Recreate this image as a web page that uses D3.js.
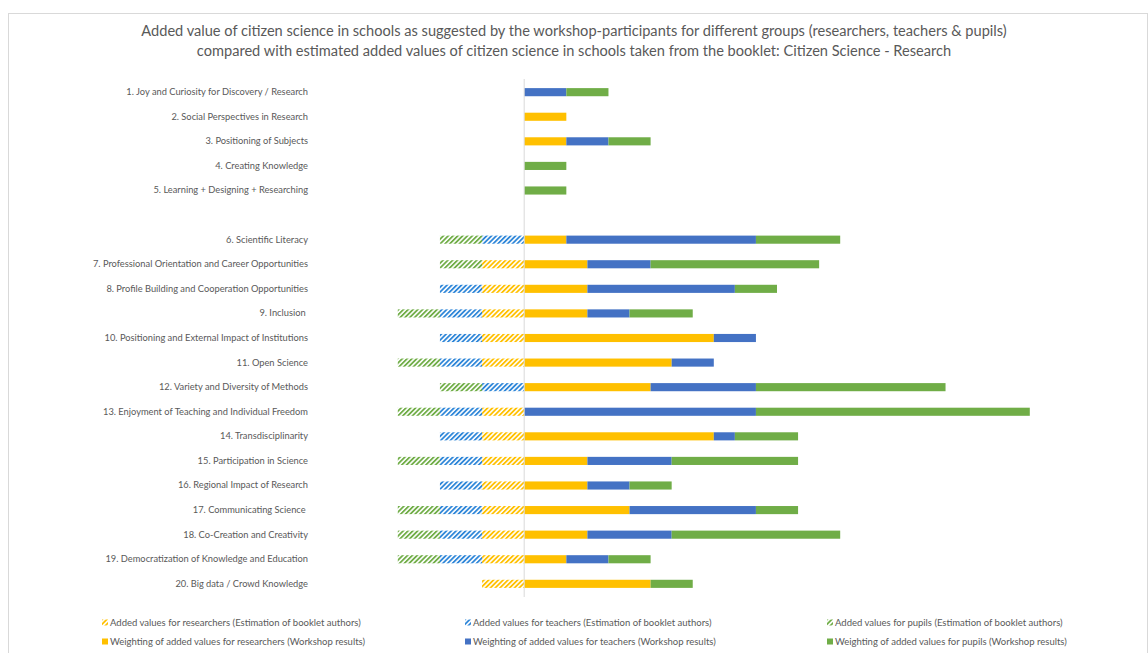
<!DOCTYPE html>
<html>
<head>
<meta charset="utf-8">
<script src="https://cdn.jsdelivr.net/npm/d3@7"></script>
<style>
    body { margin: 0; background: #fff; }
    #chart text { font-family: Lato, "Open Sans", sans-serif; fill: #595959; white-space: pre; }
</style>
</head>
<body>
<div id="chart"></div>
<script>
// Categories ("" is the empty spacer row between 5 and 6)
const categories = [
    "1. Joy and Curiosity for Discovery / Research",
    "2. Social Perspectives in Research",
    "3. Positioning of Subjects",
    "4. Creating Knowledge",
    "5. Learning + Designing + Researching",
    "",
    "6. Scientific Literacy",
    "7. Professional Orientation and Career Opportunities",
    "8. Profile Building and Cooperation Opportunities",
    "9. Inclusion ",
    "10. Positioning and External Impact of Institutions",
    "11. Open Science",
    "12. Variety and Diversity of Methods",
    "13. Enjoyment of Teaching and Individual Freedom",
    "14. Transdisciplinarity",
    "15. Participation in Science",
    "16. Regional Impact of Research",
    "17. Communicating Science ",
    "18. Co-Creation and Creativity",
    "19. Democratization of Knowledge and Education",
    "20. Big data / Crowd Knowledge"
];

// Estimations of booklet authors (drawn to the left, negative)
const researchersEst = [0, 0, 0, 0, 0, 0, 0, -1, -1, -1, -1, -1, 0, -1, -1, -1, -1, -1, -1, -1, -1];
const teachersEst    = [0, 0, 0, 0, 0, 0, -1, 0, -1, -1, -1, -1, -1, -1, -1, -1, -1, -1, -1, -1, 0];
const pupilsEst      = [0, 0, 0, 0, 0, 0, -1, -1, 0, -1, 0, -1, -1, -1, 0, -1, 0, -1, -1, -1, 0];

// Weighting from workshop results
const researchersW = [0, 1, 1, 0, 0, 0, 1, 1.5, 1.5, 1.5, 4.5, 3.5, 3, 0, 4.5, 1.5, 1.5, 2.5, 1.5, 1, 3];
const teachersW    = [1, 0, 1, 0, 0, 0, 4.5, 1.5, 3.5, 1, 1, 1, 2.5, 5.5, 0.5, 2, 1, 3, 2, 1, 0];
const pupilsW      = [1, 0, 1, 1, 1, 0, 2, 4, 1, 1.5, 0, 0, 4.5, 6.5, 1.5, 3, 1, 1, 4, 1, 1];

const seriesNames = [
    "Added values for researchers (Estimation of booklet authors)",
    "Added values for teachers (Estimation of booklet authors)",
    "Added values for pupils (Estimation of booklet authors)",
    "Weighting of added values for researchers (Workshop results)",
    "Weighting of added values for teachers (Workshop results)",
    "Weighting of added values for pupils (Workshop results)"
];

const titleLines = [
    "Added value of citizen science in schools as suggested by the workshop-participants for different groups (researchers, teachers & pupils)",
    "compared with estimated added values of citizen science in schools taken from the booklet: Citizen Science - Research"
];

const W = 1148, H = 653;
const keys = ["rEst", "tEst", "pEst", "rW", "tW", "pW"];
const colors = ["#FFC000", "#2E86D8", "#70AD47", "#FFC000", "#4472C4", "#70AD47"];
const hatched = [true, true, true, false, false, false];

const rows = categories.map((c, i) => ({
    id: "c" + i, label: c,
    rEst: researchersEst[i], tEst: teachersEst[i], pEst: pupilsEst[i],
    rW: researchersW[i], tW: teachersW[i], pW: pupilsW[i]
}));

const svg = d3.select("#chart").append("svg")
    .attr("width", W).attr("height", H);

// hatch patterns
const defs = svg.append("defs");
keys.forEach((k, i) => {
    if (!hatched[i]) return;
    const p = defs.append("pattern")
        .attr("id", "hatch-" + k)
        .attr("patternUnits", "userSpaceOnUse")
        .attr("width", 3.4).attr("height", 3.4)
        .attr("patternTransform", "rotate(45)");
    p.append("rect").attr("width", 3.4).attr("height", 3.4).attr("fill", "#fff");
    p.append("rect").attr("width", 1.8).attr("height", 3.4).attr("fill", colors[i]);
});
const fillFor = i => hatched[i] ? `url(#hatch-${keys[i]})` : colors[i];

// chart border
svg.append("rect")
    .attr("x", 8.5).attr("y", 13.5)
    .attr("width", 1139).attr("height", 660)
    .attr("fill", "none").attr("stroke", "#d9d9d9");

// title
svg.selectAll(".title").data(titleLines).enter()
    .append("text")
    .attr("class", "title")
    .attr("x", 574).attr("y", (d, i) => 36 + i * 19.5)
    .attr("text-anchor", "middle")
    .style("font-size", "14.6px")
    .text(d => d);

// scales
const x = d3.scaleLinear().domain([-3, 12]).range([397.8, 1029.8]);
const y = d3.scaleBand()
    .domain(rows.map(d => d.id))
    .range([80, 596])
    .paddingInner(0.67)
    .paddingOuter(0.33);

// stacks
const stacked = d3.stack().keys(keys).offset(d3.stackOffsetDiverging)(rows);

const layers = svg.selectAll(".layer").data(stacked).enter()
    .append("g").attr("class", "layer")
    .attr("fill", (d, i) => fillFor(i));

layers.selectAll("rect")
    .data(d => d.filter(s => s[1] !== s[0]))
    .enter().append("rect")
    .attr("x", d => x(Math.min(d[0], d[1])))
    .attr("width", d => Math.abs(x(d[1]) - x(d[0])))
    .attr("y", d => y(d.data.id))
    .attr("height", y.bandwidth());

// vertical zero axis
svg.append("line")
    .attr("x1", x(0)).attr("x2", x(0))
    .attr("y1", 79).attr("y2", 597)
    .attr("stroke", "#d9d9d9").attr("stroke-width", 1);

// category labels
const labelAxis = svg.append("g")
    .attr("transform", "translate(311,0)")
    .call(d3.axisLeft(y).tickSize(0).tickPadding(3)
        .tickFormat(id => rows.find(r => r.id === id).label));
labelAxis.select(".domain").remove();
labelAxis.selectAll("text")
    .style("font-size", "9.3px")
    .attr("fill", "#595959");

// legend
const legendX = [102, 465, 827];
const legendY = [623, 642];
const legend = svg.selectAll(".legend-item")
    .data(seriesNames).enter()
    .append("g").attr("class", "legend-item")
    .attr("transform", (d, i) => `translate(${legendX[i % 3]},${legendY[Math.floor(i / 3)]})`);

legend.append("rect")
    .attr("x", 0).attr("y", -3.5)
    .attr("width", 6).attr("height", 6)
    .attr("fill", (d, i) => fillFor(i));

legend.append("text")
    .attr("x", 8).attr("y", 3)
    .style("font-size", "9.5px")
    .text(d => d);
</script>
</body>
</html>
